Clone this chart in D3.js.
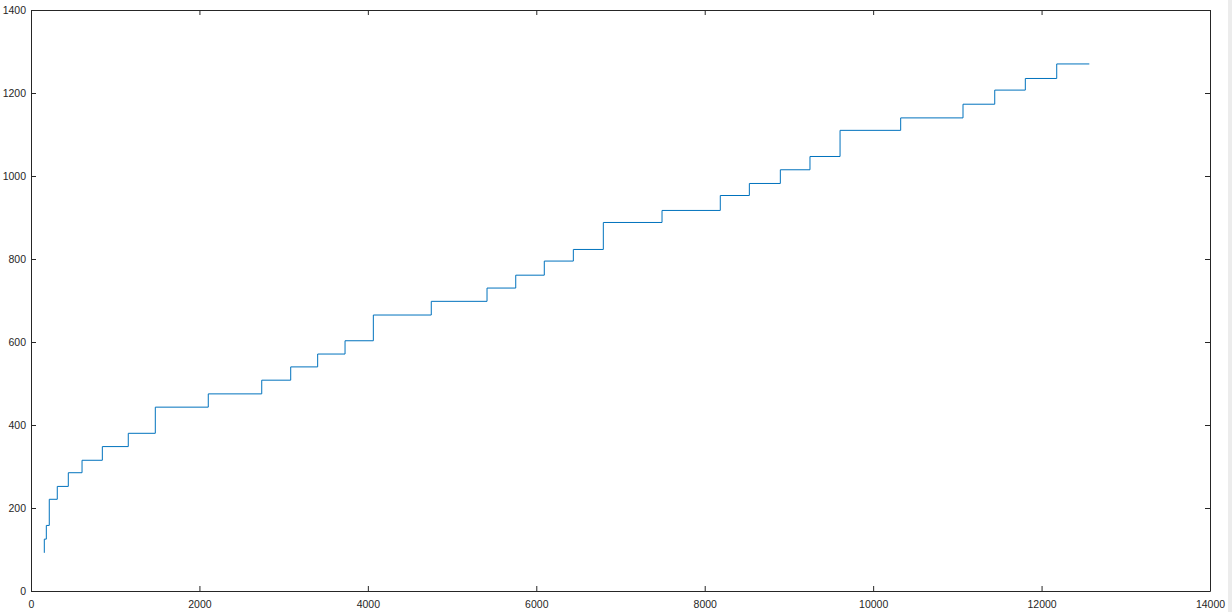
<!DOCTYPE html>
<html>
<head>
<meta charset="utf-8">
<script src="https://cdn.jsdelivr.net/npm/d3@7"></script>
<style>
  body { margin: 0; background: #fff; }
  svg { display: block; }
  .tick text { font-family: "Liberation Sans", Arial, sans-serif; font-size: 10.5px; fill: #262626; }
</style>
</head>
<body>
<div id="chart"></div>
<script>
(function () {

	// step positions (x) and levels (y)
	var stepX = [158, 158, 182, 217, 312, 443, 606, 847, 1155, 1476, 2105, 2740, 3084, 3404, 3729,
		4065, 4753, 5415, 5756, 6095, 6440, 6796, 7493, 8185, 8530, 8898, 9250, 9607, 10327,
		11067, 11444, 11807, 12180, 12567];
	var stepY = [92, 125, 158, 221, 252, 285, 315, 348, 380, 443, 475, 508, 540, 571, 603,
		665, 698, 730, 761, 795, 823, 888, 917, 953, 982, 1015, 1047, 1110, 1140,
		1173, 1207, 1235, 1270, 1270];

	var xTicks = [0, 2000, 4000, 6000, 8000, 10000, 12000, 14000];
	var yTicks = [0, 200, 400, 600, 800, 1000, 1200, 1400];

	var W = 1232, H = 612;
	var margin = {top: 10, right: 22, bottom: 21, left: 31},
		width = W - margin.left - margin.right,
		height = H - margin.top - margin.bottom;

	var svg = d3.select("#chart")
		.append("svg")
		.attr("width", W)
		.attr("height", H);

	// grey strip at the right edge of the figure
	svg.append("rect")
		.attr("x", 1228).attr("y", 0)
		.attr("width", 4).attr("height", H)
		.attr("fill", "#ececec");

	var g = svg.append("g")
		.attr("transform", "translate(" + margin.left + "," + margin.top + ")");

	var x = d3.scaleLinear().domain([0, 14000]).range([0, width]);
	var y = d3.scaleLinear().domain([0, 1400]).range([height, 0]);

	var data = stepX.map(function(v, i) { return [v, stepY[i]]; });

	var line = d3.line()
		.x(function(d) { return x(d[0]); })
		.y(function(d) { return y(d[1]); })
		.curve(d3.curveStepAfter);

	g.append("path")
		.datum(data)
		.attr("fill", "none")
		.attr("stroke", "#0072bd")
		.attr("stroke-width", 1)
		.attr("d", line);

	// axes, matlab style: inward ticks on all four sides
	function styleAxis(sel) {
		sel.select(".domain").attr("stroke", "#262626");
		sel.selectAll(".tick line").attr("stroke", "#262626");
	}

	var fmt = d3.format("d");

	g.append("g")
		.attr("transform", "translate(0," + height + ")")
		.call(d3.axisBottom(x).tickValues(xTicks).tickFormat(fmt).tickSizeInner(-5).tickSizeOuter(0).tickPadding(10))
		.call(styleAxis);

	g.append("g")
		.call(d3.axisTop(x).tickValues(xTicks).tickSizeInner(-5).tickSizeOuter(0).tickFormat(""))
		.call(styleAxis);

	g.append("g")
		.call(d3.axisLeft(y).tickValues(yTicks).tickFormat(fmt).tickSizeInner(-5).tickSizeOuter(0).tickPadding(5))
		.call(styleAxis);

	g.append("g")
		.attr("transform", "translate(" + width + ",0)")
		.call(d3.axisRight(y).tickValues(yTicks).tickSizeInner(-5).tickSizeOuter(0).tickFormat(""))
		.call(styleAxis);

	g.selectAll(".tick text").attr("font-family", null).attr("font-size", null);
})();
</script>
</body>
</html>
